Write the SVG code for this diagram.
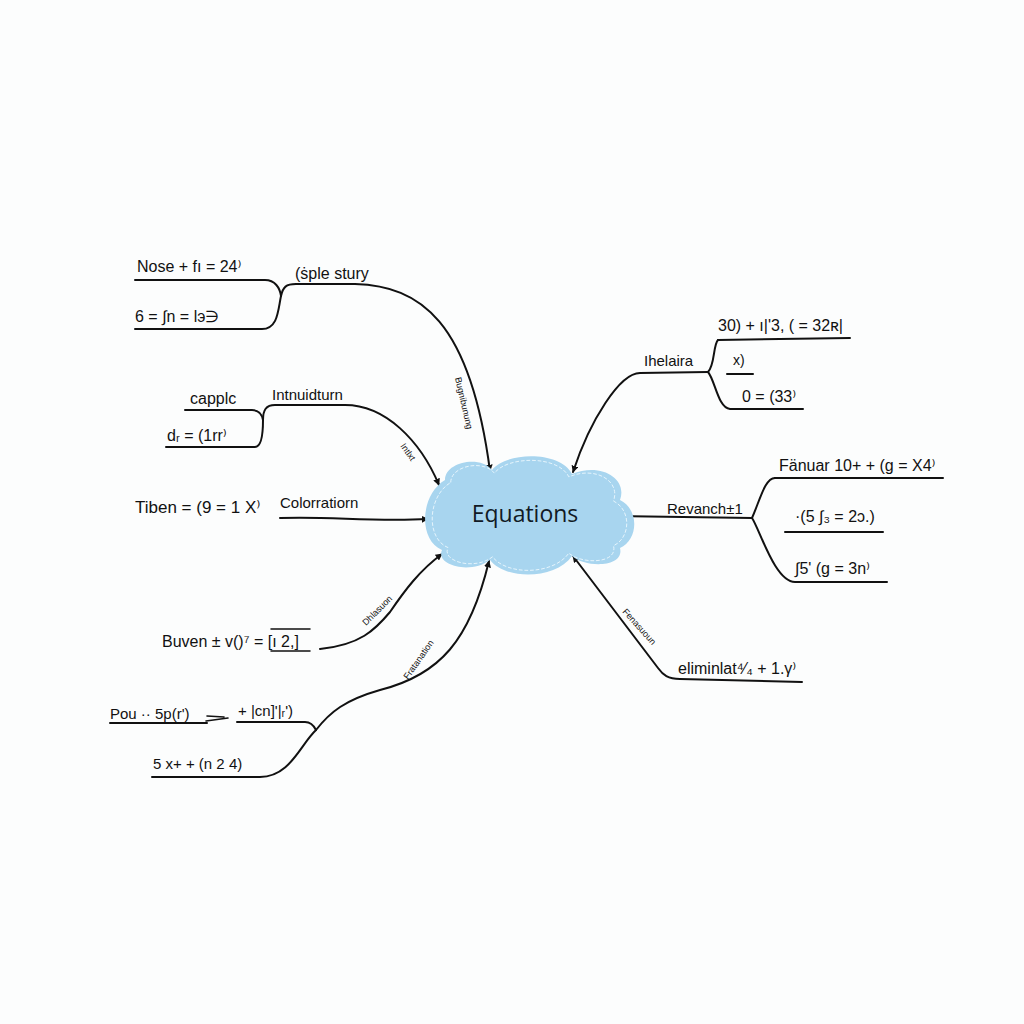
<svg xmlns="http://www.w3.org/2000/svg" width="1024" height="1024" viewBox="0 0 1024 1024">
<defs>
<marker id="arr" viewBox="0 0 10 10" refX="9" refY="5" markerWidth="7" markerHeight="7" orient="auto" markerUnits="userSpaceOnUse">
<path d="M0,0 L10,5 L0,10 Z" fill="#111"/>
</marker>
<style>
.t{font-family:"Liberation Sans","DejaVu Sans",sans-serif;font-size:16px;fill:#111}
.s{font-family:"Liberation Sans","DejaVu Sans",sans-serif;font-size:9px;fill:#111}
.c{fill:none;stroke:#111;stroke-width:2;stroke-linecap:round}
</style>
</defs>
<rect width="1024" height="1024" fill="#fcfdfd"/>

<g id="connectors">
<path class="c" d="M135,280 L265,280 C275,280 280,288 281,296"/>
<path class="c" d="M135,329 L262,329 C278,329 278,310 281,296 C283,287 286,284 296,284 L355,284 C420,286 470,320 490,471" style="marker-end:url(#arr)"/>
<path class="c" d="M185,410 L252,410 C258,410 262,414 263,420"/>
<path class="c" d="M166,447 L255,447 C262,447 263,430 263,420 C263,410 266,405 275,405 L345,405 C385,405 420,440 439,485" style="marker-end:url(#arr)"/>
<path class="c" d="M280,518 C330,516 370,522 428,519" style="marker-end:url(#arr)"/>
<path class="c" d="M320,649 C360,645 375,630 390,612 C405,590 420,570 442,554" style="marker-end:url(#arr)"/>
<path class="c" d="M237,722 L305,722 C311,722 314,726 316,730"/>
<path class="c" d="M152,777 L260,777 C290,777 300,745 316,730 C330,712 345,700 380,690 C440,675 470,640 489,561" style="marker-end:url(#arr)"/>
<path class="c" d="M718,340 L850,338"/>
<path class="c" d="M718,340 C713,345 715,365 708,372 C715,380 718,408 730,409 L803,409"/>
<path class="c" d="M727,374 L753,374"/>
<path class="c" d="M708,372 L640,373 C620,373 590,420 573,472" style="marker-end:url(#arr)"/>
<path class="c" d="M775,478 L943,478"/>
<path class="c" d="M775,478 C765,478 760,500 752,518 C760,530 775,582 795,582 L887,582"/>
<path class="c" d="M785,532 L883,532"/>
<path class="c" d="M752,518 L614,516" style="marker-end:url(#arr)"/>
<path class="c" d="M802,682 L680,679 C668,679 663,675 658,668 L573,556" style="marker-end:url(#arr)"/>
<path class="c" d="M110,723 L207,723"/>
<path class="c" d="M207,716 L224,717 M206,721 L228,718" style="stroke-width:1.6"/>
<path class="c" d="M271,651 L310,651 M271,629 L310,629" style="stroke-width:1.5"/>
</g>

<g id="edge-labels">
<text class="s" transform="translate(455,378) rotate(77)">Bugnibunung</text>
<text class="s" transform="translate(400,446) rotate(55)">Intlxt</text>
<text class="s" transform="translate(366,626) rotate(-45)">Dhlasuon</text>
<text class="s" transform="translate(408,680) rotate(-55)">Fratanation</text>
<text class="s" transform="translate(622,612) rotate(48)">Fenasuoun</text>
</g>

<g id="center">
<path d="M445,480 C445,462 480,455 492,470 C505,452 560,450 572,474 C600,462 628,478 620,500 C640,510 638,540 620,548 C625,568 585,568 572,556 C555,580 505,580 490,560 C470,575 435,565 442,550 C418,540 420,495 445,480 Z" fill="#a8d5ef"/>
<path d="M445,480 C445,462 480,455 492,470 C505,452 560,450 572,474 C600,462 628,478 620,500 C640,510 638,540 620,548 C625,568 585,568 572,556 C555,580 505,580 490,560 C470,575 435,565 442,550 C418,540 420,495 445,480 Z" fill="none" stroke="#eaf6fd" stroke-width="1" stroke-dasharray="4 2" transform="translate(527,515) scale(0.93) translate(-527,-515)"/>
<text x="525" y="522" text-anchor="middle" style="font-family:'Open Sans','Liberation Sans',sans-serif;font-size:23px;font-weight:500;fill:#111a24">Equations</text>
</g>

<g id="node-tl"><text class="t" x="137" y="272">Nose + fı = 24⁾</text><text class="t" x="295" y="279">(ṡple stury</text><text class="t" x="135" y="322">6 =  ∫n = lэ∋</text></g>
<g id="node-cap"><text class="t" x="190" y="404">capplc</text><text class="t" x="272" y="400" style="font-size:15px">Intnuidturn</text><text class="t" x="167" y="441">dᵣ = (1rr⁾</text></g>
<g id="node-tiben"><text class="t" x="135" y="513" style="font-size:17px">Tiben = (9 = 1 X⁾</text><text class="t" x="280" y="508" style="font-size:15px">Colorratiorn</text></g>
<g id="node-buven"><text class="t" x="162" y="647">Buven ± v()⁷ = [ı 2,]</text></g>
<g id="node-pou"><text class="t" x="110" y="719" style="font-size:15px">Pou ·· 5p(r')</text><text class="t" x="238" y="716" style="font-size:15px">+ |cn]'|ᵣ')</text><text class="t" x="153" y="769" style="font-size:15px">5 x+ + (n 2 4)</text></g>
<g id="node-ihe"><text class="t" x="644" y="366" style="font-size:15px">Ihelaira</text><text class="t" x="718" y="331">30) + ı|'3, ( = 32ʀ|</text><text class="t" x="733" y="365" style="font-size:14px">x)</text><text class="t" x="742" y="402">0 = (33⁾</text></g>
<g id="node-rev"><text class="t" x="667" y="514" style="font-size:15px">Revanch±1</text><text class="t" x="779" y="471">Fänuar 10+ + (g = X4⁾</text><text class="t" x="795" y="522">·(5 ∫₃ = 2ɔ.)</text><text class="t" x="795" y="574">∫5' (g = 3n⁾</text></g>
<g id="node-elim"><text class="t" x="678" y="674">eliminlat⁴⁄₄ + 1.γ⁾</text></g>
</svg>
